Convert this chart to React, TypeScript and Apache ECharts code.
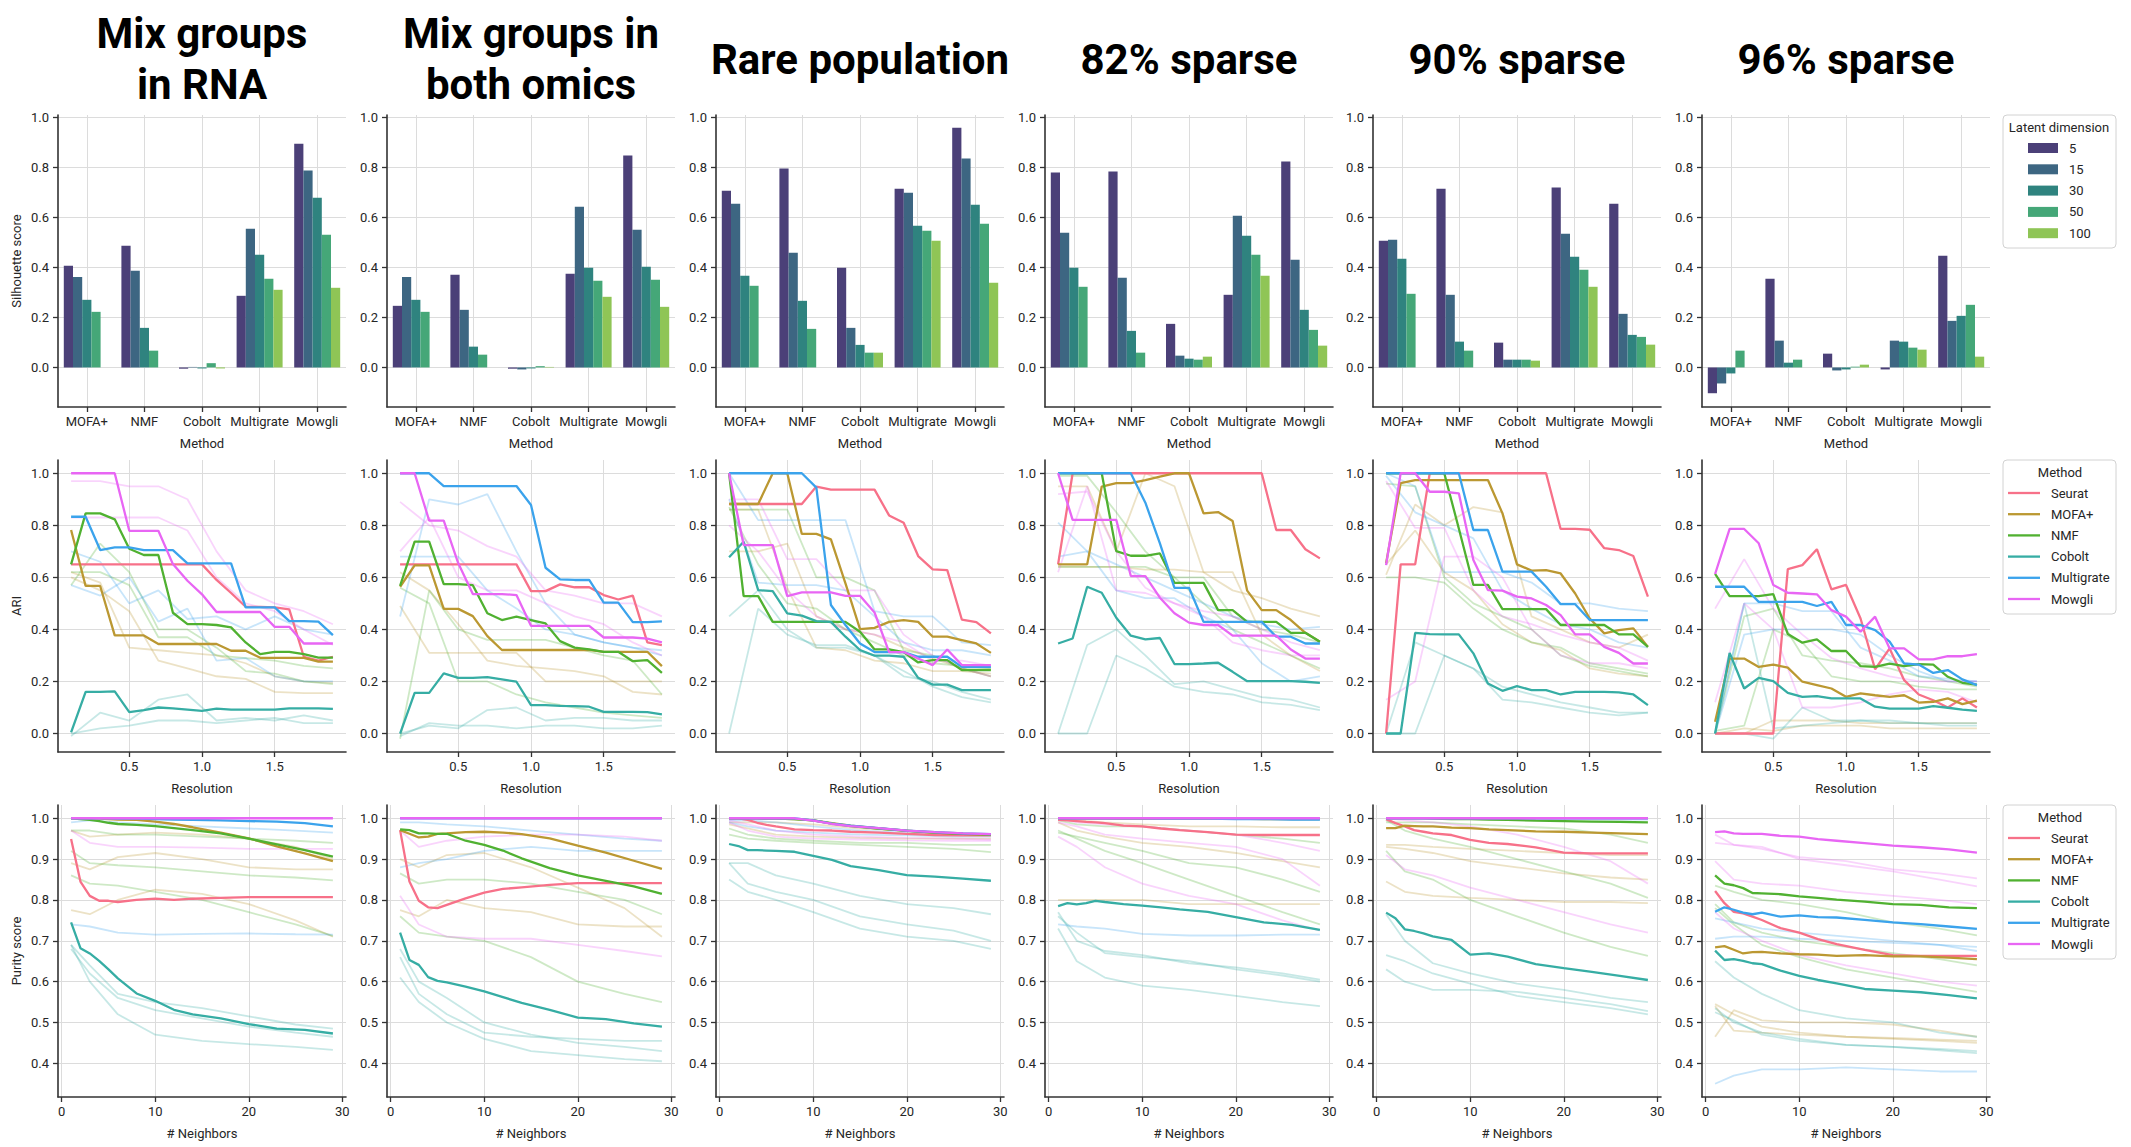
import React, { useEffect, useRef } from "react";
import * as echarts from "echarts";

// ---------- labels ----------
const TITLES = ["Mix groups\nin RNA", "Mix groups in\nboth omics", "Rare population", "82% sparse", "90% sparse", "96% sparse"];
const BAR_METHODS = ["MOFA+", "NMF", "Cobolt", "Multigrate", "Mowgli"];
const LATENT_DIMS = ["5", "15", "30", "50", "100"];
const LINE_METHODS = ["Seurat", "MOFA+", "NMF", "Cobolt", "Multigrate", "Mowgli"];

const DIM_COLORS = ["#4b4078", "#3d6682", "#2f837f", "#45a778", "#8fc556"];
const METHOD_COLORS = ["#f77189", "#bb9832", "#50b131", "#36ada4", "#3ba3ec", "#e866f4"];

// ---------- ticks ----------
const SIL_TICKS = [0, 0.2, 0.4, 0.6, 0.8, 1.0];
const ARI_TICKS = [0, 0.2, 0.4, 0.6, 0.8, 1.0];
const PUR_TICKS = [0.4, 0.5, 0.6, 0.7, 0.8, 0.9, 1.0];
const RES_TICKS = [0.5, 1.0, 1.5];
const NEIGH_TICKS = [0, 10, 20, 30];
const METHOD_TICKS = [0, 1, 2, 3, 4];

// ---------- x values ----------
const RESOLUTION = [0.1, 0.2, 0.3, 0.4, 0.5, 0.6, 0.7, 0.8, 0.9, 1.0, 1.1, 1.2, 1.3, 1.4, 1.5, 1.6, 1.7, 1.8, 1.9];
const RESOLUTION_FAINT = [0.1, 0.3, 0.5, 0.7, 0.9, 1.1, 1.3, 1.5, 1.7, 1.9];
const NEIGHBORS = [1, 2, 3, 4, 5, 6, 8, 10, 12, 14, 17, 20, 23, 26, 29];
const NEIGHBORS_FAINT = [1, 3, 6, 10, 15, 20, 25, 29];

// ---------- silhouette (rows: method, cols: latent dim 5,15,30,50,100) ----------
const SIL_1 = [[0.406, 0.361, 0.27, 0.222, null], [0.486, 0.386, 0.158, 0.067, null], [-0.005, 0.002, -0.004, 0.017, -0.004], [0.286, 0.554, 0.45, 0.354, 0.31], [0.893, 0.786, 0.678, 0.53, 0.318]];
const SIL_2 = [[0.246, 0.361, 0.27, 0.222, null], [0.37, 0.23, 0.083, 0.051, null], [-0.005, -0.008, -0.004, 0.005, 0.002], [0.374, 0.642, 0.398, 0.346, 0.282], [0.846, 0.55, 0.402, 0.35, 0.242]];
const SIL_3 = [[0.706, 0.654, 0.366, 0.326, null], [0.794, 0.458, 0.266, 0.154, null], [0.398, 0.158, 0.09, 0.059, 0.059], [0.714, 0.698, 0.566, 0.546, 0.506], [0.957, 0.834, 0.65, 0.574, 0.338]];
const SIL_4 = [[0.778, 0.538, 0.398, 0.322, null], [0.782, 0.358, 0.146, 0.059, null], [0.174, 0.047, 0.035, 0.031, 0.043], [0.29, 0.606, 0.526, 0.45, 0.366], [0.822, 0.43, 0.23, 0.15, 0.087]];
const SIL_5 = [[0.506, 0.51, 0.434, 0.294, null], [0.714, 0.29, 0.103, 0.067, null], [0.099, 0.031, 0.031, 0.031, 0.027], [0.718, 0.534, 0.442, 0.39, 0.322], [0.654, 0.214, 0.13, 0.122, 0.091]];
const SIL_6 = [[-0.103, -0.064, -0.024, 0.067, null], [0.354, 0.107, 0.019, 0.031, null], [0.055, -0.012, -0.008, 0.003, 0.011], [-0.008, 0.107, 0.103, 0.079, 0.071], [0.446, 0.186, 0.206, 0.25, 0.043]];

// ---------- ARI bold lines (order: Seurat, MOFA+, NMF, Cobolt, Multigrate, Mowgli) ----------
const ARI_BOLD_1 = [
  [0.65, 0.65, 0.65, 0.65, 0.65, 0.65, 0.65, 0.65, 0.65, 0.65, 0.59, 0.54, 0.487, 0.487, 0.485, 0.477, 0.295, 0.28, 0.295],
  [0.782, 0.567, 0.567, 0.377, 0.377, 0.377, 0.344, 0.344, 0.344, 0.344, 0.344, 0.318, 0.318, 0.291, 0.291, 0.291, 0.291, 0.276, 0.276],
  [0.65, 0.846, 0.846, 0.823, 0.71, 0.686, 0.686, 0.464, 0.42, 0.42, 0.417, 0.408, 0.35, 0.305, 0.314, 0.314, 0.305, 0.292, 0.292],
  [0.004, 0.16, 0.16, 0.162, 0.082, 0.09, 0.1, 0.097, 0.092, 0.087, 0.096, 0.092, 0.092, 0.092, 0.092, 0.097, 0.097, 0.097, 0.095],
  [0.833, 0.833, 0.705, 0.715, 0.715, 0.705, 0.705, 0.705, 0.654, 0.654, 0.654, 0.654, 0.485, 0.485, 0.485, 0.432, 0.432, 0.43, 0.378],
  [1, 1, 1, 1, 0.779, 0.779, 0.779, 0.651, 0.587, 0.535, 0.467, 0.467, 0.467, 0.467, 0.41, 0.41, 0.346, 0.346, 0.346],
];
const ARI_BOLD_2 = [
  [0.65, 0.65, 0.65, 0.65, 0.65, 0.65, 0.65, 0.65, 0.65, 0.547, 0.547, 0.573, 0.562, 0.562, 0.532, 0.515, 0.53, 0.35, 0.34],
  [0.564, 0.646, 0.646, 0.479, 0.479, 0.451, 0.374, 0.321, 0.321, 0.321, 0.321, 0.321, 0.321, 0.321, 0.314, 0.314, 0.314, 0.314, 0.259],
  [0.567, 0.737, 0.737, 0.574, 0.574, 0.57, 0.462, 0.436, 0.449, 0.436, 0.423, 0.355, 0.33, 0.323, 0.314, 0.314, 0.278, 0.282, 0.233],
  [0.0, 0.156, 0.156, 0.231, 0.214, 0.214, 0.217, 0.208, 0.199, 0.109, 0.109, 0.106, 0.105, 0.103, 0.083, 0.083, 0.083, 0.082, 0.074],
  [1, 1, 1, 0.951, 0.951, 0.951, 0.951, 0.951, 0.951, 0.878, 0.637, 0.592, 0.59, 0.59, 0.503, 0.503, 0.428, 0.428, 0.431],
  [1, 1, 0.818, 0.818, 0.654, 0.536, 0.536, 0.536, 0.532, 0.414, 0.414, 0.414, 0.414, 0.414, 0.369, 0.369, 0.369, 0.365, 0.35],
];
const ARI_BOLD_3 = [
  [0.882, 0.882, 0.882, 0.882, 0.882, 0.882, 0.949, 0.937, 0.937, 0.937, 0.937, 0.838, 0.81, 0.682, 0.631, 0.628, 0.438, 0.428, 0.385],
  [0.882, 0.882, 0.882, 1, 1, 0.767, 0.767, 0.746, 0.577, 0.401, 0.406, 0.429, 0.436, 0.429, 0.372, 0.372, 0.359, 0.346, 0.31],
  [1, 0.528, 0.528, 0.429, 0.429, 0.429, 0.429, 0.429, 0.429, 0.391, 0.323, 0.323, 0.313, 0.273, 0.282, 0.282, 0.244, 0.244, 0.244],
  [0.677, 0.737, 0.551, 0.547, 0.462, 0.453, 0.432, 0.429, 0.372, 0.321, 0.299, 0.299, 0.295, 0.214, 0.188, 0.188, 0.167, 0.167, 0.167],
  [1, 1, 1, 1, 1, 1, 0.945, 0.494, 0.417, 0.346, 0.313, 0.313, 0.313, 0.295, 0.295, 0.295, 0.256, 0.256, 0.256],
  [1, 0.724, 0.724, 0.724, 0.528, 0.542, 0.542, 0.542, 0.529, 0.529, 0.465, 0.313, 0.313, 0.288, 0.263, 0.323, 0.263, 0.263, 0.263],
];
const ARI_BOLD_4 = [
  [0.65, 1, 1, 1, 1, 1, 1, 1, 1, 1, 1, 1, 1, 1, 1, 0.782, 0.782, 0.708, 0.673],
  [0.65, 0.65, 0.65, 0.949, 0.962, 0.962, 0.974, 0.987, 1, 1, 0.846, 0.851, 0.817, 0.549, 0.474, 0.474, 0.436, 0.387, 0.353],
  [1, 1, 1, 1, 0.701, 0.683, 0.683, 0.692, 0.579, 0.579, 0.579, 0.474, 0.474, 0.429, 0.429, 0.429, 0.387, 0.387, 0.353],
  [0.346, 0.365, 0.564, 0.541, 0.445, 0.376, 0.362, 0.367, 0.267, 0.267, 0.269, 0.272, 0.237, 0.201, 0.201, 0.201, 0.201, 0.199, 0.195],
  [1, 1, 1, 1, 1, 1, 0.887, 0.731, 0.56, 0.56, 0.429, 0.429, 0.429, 0.429, 0.429, 0.372, 0.372, 0.346, 0.346],
  [1, 0.821, 0.821, 0.821, 0.821, 0.605, 0.605, 0.522, 0.462, 0.426, 0.417, 0.417, 0.376, 0.376, 0.376, 0.376, 0.323, 0.288, 0.288],
];
const ARI_BOLD_5 = [
  [0, 0.65, 0.65, 1, 1, 1, 1, 1, 1, 1, 1, 1, 0.786, 0.786, 0.783, 0.712, 0.705, 0.682, 0.526],
  [0.654, 0.962, 0.974, 0.974, 0.974, 0.974, 0.974, 0.974, 0.846, 0.65, 0.626, 0.628, 0.615, 0.538, 0.442, 0.385, 0.397, 0.404, 0.333],
  [1, 1, 1, 1, 1, 0.788, 0.571, 0.571, 0.478, 0.478, 0.478, 0.478, 0.417, 0.417, 0.417, 0.417, 0.381, 0.381, 0.333],
  [0, 0, 0.387, 0.382, 0.381, 0.381, 0.308, 0.192, 0.164, 0.182, 0.167, 0.167, 0.15, 0.16, 0.16, 0.16, 0.158, 0.15, 0.109],
  [1, 1, 1, 1, 1, 1, 0.782, 0.782, 0.622, 0.622, 0.622, 0.564, 0.497, 0.497, 0.436, 0.436, 0.436, 0.436, 0.436],
  [0.647, 1, 1, 0.929, 0.929, 0.923, 0.667, 0.551, 0.549, 0.526, 0.519, 0.494, 0.455, 0.381, 0.381, 0.333, 0.31, 0.269, 0.269],
];
const ARI_BOLD_6 = [
  [0, 0, 0, 0, 0, 0.632, 0.647, 0.708, 0.554, 0.571, 0.442, 0.247, 0.327, 0.205, 0.15, 0.128, 0.1, 0.135, 0.1],
  [0.045, 0.288, 0.288, 0.256, 0.265, 0.253, 0.199, 0.186, 0.173, 0.141, 0.154, 0.147, 0.141, 0.147, 0.119, 0.122, 0.135, 0.113, 0.126],
  [0.613, 0.528, 0.528, 0.528, 0.536, 0.382, 0.349, 0.362, 0.317, 0.317, 0.259, 0.256, 0.269, 0.259, 0.267, 0.265, 0.218, 0.195, 0.188],
  [0, 0.31, 0.173, 0.214, 0.201, 0.156, 0.141, 0.144, 0.135, 0.135, 0.135, 0.103, 0.096, 0.096, 0.096, 0.105, 0.099, 0.092, 0.087],
  [0.564, 0.564, 0.564, 0.506, 0.506, 0.506, 0.506, 0.49, 0.506, 0.417, 0.417, 0.397, 0.353, 0.269, 0.265, 0.233, 0.244, 0.208, 0.186],
  [0.613, 0.786, 0.786, 0.731, 0.571, 0.541, 0.538, 0.535, 0.474, 0.449, 0.391, 0.449, 0.327, 0.327, 0.285, 0.285, 0.297, 0.297, 0.305],
];

// ---------- ARI faint lines (other latent dims): [method index, values at RESOLUTION_FAINT] ----------
const ARI_FAINT_1 = [
  [1, [0.62, 0.58, 0.33, 0.32, 0.31, 0.3, 0.27, 0.22, 0.2, 0.195]],
  [1, [0.6, 0.55, 0.47, 0.28, 0.25, 0.22, 0.21, 0.16, 0.155, 0.155]],
  [2, [0.57, 0.73, 0.62, 0.4, 0.4, 0.33, 0.24, 0.23, 0.2, 0.19]],
  [2, [0.62, 0.62, 0.57, 0.37, 0.37, 0.3, 0.29, 0.28, 0.26, 0.25]],
  [3, [-0.01, 0.08, 0.05, 0.13, 0.15, 0.05, 0.06, 0.05, 0.07, 0.05]],
  [3, [0.0, 0.02, 0.03, 0.05, 0.05, 0.04, 0.05, 0.06, 0.04, 0.04]],
  [4, [0.7, 0.66, 0.5, 0.55, 0.44, 0.45, 0.4, 0.45, 0.4, 0.38]],
  [4, [0.57, 0.53, 0.6, 0.43, 0.48, 0.28, 0.29, 0.22, 0.2, 0.2]],
  [5, [0.97, 0.97, 0.95, 0.95, 0.9, 0.7, 0.55, 0.5, 0.47, 0.42]],
  [5, [0.83, 0.83, 0.83, 0.83, 0.78, 0.6, 0.5, 0.47, 0.4, 0.34]],
];
const ARI_FAINT_2 = [
  [1, [0.49, 0.31, 0.31, 0.31, 0.31, 0.2, 0.2, 0.2, 0.2, 0.2]],
  [1, [0.62, 0.55, 0.42, 0.28, 0.26, 0.25, 0.24, 0.22, 0.16, 0.15]],
  [2, [-0.02, 0.55, 0.4, 0.36, 0.36, 0.36, 0.33, 0.3, 0.28, 0.15]],
  [2, [0.56, 0.5, 0.2, 0.2, 0.15, 0.12, 0.1, 0.08, 0.07, 0.06]],
  [3, [0.0, 0.03, 0.02, 0.09, 0.1, 0.05, 0.06, 0.06, 0.05, 0.05]],
  [3, [-0.01, 0.04, 0.03, 0.03, 0.02, 0.03, 0.03, 0.02, 0.02, 0.03]],
  [4, [0.45, 0.9, 0.88, 0.92, 0.7, 0.5, 0.38, 0.35, 0.33, 0.32]],
  [4, [0.68, 0.68, 0.68, 0.55, 0.48, 0.4, 0.38, 0.35, 0.33, 0.3]],
  [5, [0.89, 0.8, 0.78, 0.72, 0.68, 0.55, 0.53, 0.5, 0.5, 0.45]],
  [5, [0.7, 0.83, 0.6, 0.55, 0.55, 0.5, 0.45, 0.42, 0.35, 0.3]],
];
const ARI_FAINT_3 = [
  [1, [0.7, 0.7, 0.73, 0.45, 0.4, 0.38, 0.33, 0.29, 0.25, 0.22]],
  [1, [0.86, 0.86, 0.56, 0.33, 0.32, 0.28, 0.27, 0.24, 0.24, 0.23]],
  [2, [0.86, 0.86, 0.86, 0.6, 0.6, 0.55, 0.32, 0.3, 0.25, 0.22]],
  [2, [0.87, 0.65, 0.5, 0.48, 0.4, 0.35, 0.3, 0.27, 0.26, 0.25]],
  [3, [0.0, 0.48, 0.38, 0.34, 0.34, 0.3, 0.24, 0.18, 0.14, 0.12]],
  [3, [0.45, 0.55, 0.4, 0.33, 0.33, 0.3, 0.22, 0.2, 0.16, 0.13]],
  [4, [1.0, 0.82, 0.82, 0.82, 0.82, 0.47, 0.45, 0.45, 0.35, 0.34]],
  [4, [0.9, 0.58, 0.57, 0.57, 0.55, 0.45, 0.35, 0.32, 0.32, 0.3]],
  [5, [0.9, 0.9, 0.67, 0.67, 0.55, 0.55, 0.38, 0.3, 0.25, 0.22]],
  [5, [0.8, 0.7, 0.55, 0.45, 0.4, 0.38, 0.35, 0.28, 0.28, 0.26]],
];
const ARI_FAINT_4 = [
  [1, [0.64, 0.64, 0.64, 0.63, 0.63, 0.62, 0.55, 0.52, 0.48, 0.45]],
  [1, [0.95, 0.95, 0.7, 1.0, 0.95, 0.62, 0.62, 0.38, 0.3, 0.24]],
  [2, [0.99, 0.99, 0.85, 0.7, 0.6, 0.6, 0.45, 0.4, 0.38, 0.35]],
  [2, [0.64, 0.64, 0.64, 0.64, 0.6, 0.5, 0.4, 0.35, 0.3, 0.25]],
  [3, [0.0, 0.34, 0.4, 0.3, 0.19, 0.2, 0.17, 0.14, 0.13, 0.1]],
  [3, [0.0, 0.0, 0.3, 0.25, 0.18, 0.16, 0.15, 0.12, 0.11, 0.09]],
  [4, [0.81, 0.7, 0.55, 0.52, 0.52, 0.45, 0.4, 0.27, 0.2, 0.22]],
  [4, [0.68, 0.7, 0.65, 0.6, 0.55, 0.5, 0.45, 0.42, 0.4, 0.41]],
  [5, [0.92, 0.93, 0.7, 0.56, 0.5, 0.47, 0.45, 0.4, 0.35, 0.32]],
  [5, [0.62, 0.95, 0.55, 0.54, 0.5, 0.45, 0.35, 0.32, 0.3, 0.3]],
];
const ARI_FAINT_5 = [
  [1, [0.61, 0.88, 0.8, 0.87, 0.85, 0.45, 0.4, 0.35, 0.33, 0.38]],
  [1, [0.65, 0.78, 0.62, 0.55, 0.42, 0.35, 0.32, 0.25, 0.23, 0.22]],
  [2, [0.96, 0.95, 0.6, 0.5, 0.45, 0.4, 0.3, 0.26, 0.24, 0.22]],
  [2, [0.6, 0.6, 0.58, 0.48, 0.4, 0.35, 0.33, 0.27, 0.25, 0.23]],
  [3, [0.0, 0.35, 0.3, 0.25, 0.18, 0.15, 0.12, 0.1, 0.08, 0.08]],
  [3, [0.0, 0.0, 0.3, 0.25, 0.13, 0.12, 0.1, 0.08, 0.07, 0.08]],
  [4, [1.0, 0.95, 0.62, 0.62, 0.62, 0.58, 0.5, 0.5, 0.48, 0.47]],
  [4, [0.99, 0.85, 0.8, 0.75, 0.55, 0.48, 0.42, 0.4, 0.35, 0.33]],
  [5, [0.13, 0.2, 0.68, 0.68, 0.6, 0.4, 0.3, 0.27, 0.27, 0.25]],
  [5, [0.97, 0.79, 0.79, 0.55, 0.45, 0.42, 0.38, 0.35, 0.33, 0.28]],
];
const ARI_FAINT_6 = [
  [1, [0.0, 0.0, 0.05, 0.05, 0.05, 0.04, 0.04, 0.04, 0.04, 0.04]],
  [1, [0.0, 0.02, 0.01, 0.03, 0.03, 0.03, 0.02, 0.02, 0.02, 0.02]],
  [2, [0.01, 0.03, 0.4, 0.35, 0.22, 0.2, 0.2, 0.18, 0.17, 0.17]],
  [2, [0.0, 0.45, 0.48, 0.3, 0.28, 0.27, 0.25, 0.22, 0.2, 0.18]],
  [3, [0.0, 0.5, 0.02, 0.03, 0.04, 0.05, 0.04, 0.04, 0.03, 0.03]],
  [3, [0.0, 0.0, -0.02, 0.1, 0.05, 0.05, 0.05, 0.04, 0.04, 0.04]],
  [4, [0.0, 0.38, 0.4, 0.4, 0.4, 0.38, 0.3, 0.24, 0.2, 0.2]],
  [4, [0.0, 0.5, 0.5, 0.47, 0.47, 0.33, 0.28, 0.22, 0.21, 0.2]],
  [5, [0.48, 0.67, 0.48, 0.38, 0.29, 0.25, 0.22, 0.2, 0.2, 0.2]],
  [5, [0.12, 0.5, 0.4, 0.1, 0.1, 0.12, 0.15, 0.17, 0.16, 0.12]],
];

// ---------- Purity bold lines (values at NEIGHBORS) ----------
const PUR_BOLD_1 = [
  [0.949, 0.845, 0.81, 0.798, 0.798, 0.795, 0.8, 0.803, 0.8, 0.803, 0.805, 0.807, 0.807, 0.807, 0.807],
  [1.0, 1.0, 1.0, 0.999, 0.998, 0.997, 0.996, 0.992, 0.986, 0.978, 0.965, 0.951, 0.931, 0.914, 0.895],
  [1.0, 0.998, 0.996, 0.993, 0.989, 0.986, 0.984, 0.981, 0.976, 0.971, 0.963, 0.95, 0.936, 0.922, 0.906],
  [0.745, 0.682, 0.669, 0.651, 0.63, 0.608, 0.571, 0.553, 0.531, 0.52, 0.51, 0.496, 0.485, 0.482, 0.473],
  [1.0, 1.0, 1.0, 1.0, 1.0, 0.999, 0.999, 0.998, 0.997, 0.996, 0.995, 0.993, 0.992, 0.988, 0.98],
  [1, 1, 1, 1, 1, 1, 1, 1, 1, 1, 1, 1, 1, 1, 1],
];
const PUR_BOLD_2 = [
  [0.971, 0.845, 0.798, 0.782, 0.78, 0.788, 0.804, 0.818, 0.827, 0.831, 0.837, 0.841, 0.841, 0.841, 0.841],
  [0.971, 0.962, 0.953, 0.955, 0.962, 0.963, 0.966, 0.967, 0.965, 0.961, 0.951, 0.933, 0.916, 0.896, 0.876],
  [0.973, 0.971, 0.963, 0.963, 0.962, 0.962, 0.945, 0.935, 0.921, 0.902, 0.878, 0.86, 0.847, 0.833, 0.815],
  [0.72, 0.653, 0.641, 0.611, 0.602, 0.598, 0.588, 0.576, 0.562, 0.548, 0.531, 0.512, 0.508, 0.498, 0.49],
  [1, 1, 1, 1, 1, 1, 1, 1, 1, 1, 1, 1, 1, 1, 1],
  [1, 1, 1, 1, 1, 1, 1, 1, 1, 1, 1, 1, 1, 1, 1],
];
const PUR_BOLD_3 = [
  [1.0, 1.0, 0.996, 0.989, 0.984, 0.98, 0.973, 0.971, 0.97, 0.967, 0.965, 0.962, 0.959, 0.958, 0.958],
  [1.0, 1.0, 1.0, 1.0, 0.999, 0.999, 0.998, 0.995, 0.988, 0.982, 0.975, 0.969, 0.965, 0.962, 0.96],
  [1.0, 1.0, 1.0, 1.0, 0.999, 0.999, 0.998, 0.995, 0.987, 0.981, 0.975, 0.97, 0.965, 0.962, 0.96],
  [0.937, 0.932, 0.922, 0.922, 0.921, 0.92, 0.918, 0.908, 0.898, 0.883, 0.873, 0.861, 0.857, 0.852, 0.847],
  [1.0, 1.0, 1.0, 1.0, 1.0, 1.0, 1.0, 0.995, 0.987, 0.982, 0.976, 0.97, 0.966, 0.963, 0.961],
  [1.0, 1.0, 1.0, 1.0, 1.0, 1.0, 1.0, 0.994, 0.986, 0.981, 0.976, 0.97, 0.966, 0.963, 0.961],
];
const PUR_BOLD_4 = [
  [0.996, 0.995, 0.993, 0.991, 0.99, 0.988, 0.982, 0.98, 0.975, 0.971, 0.966, 0.96, 0.959, 0.959, 0.959],
  [1.0, 1.0, 1.0, 1.0, 1.0, 1.0, 0.999, 0.999, 0.999, 0.999, 0.999, 0.999, 0.998, 0.998, 0.998],
  [1, 1, 1, 1, 1, 1, 1, 1, 1, 1, 1, 1, 1, 0.999, 0.999],
  [0.785, 0.792, 0.789, 0.792, 0.798, 0.795, 0.79, 0.786, 0.782, 0.777, 0.771, 0.758, 0.745, 0.739, 0.727],
  [1, 1, 1, 1, 1, 1, 1, 1, 0.999, 0.999, 0.999, 0.998, 0.998, 0.997, 0.997],
  [1, 1, 1, 1, 1, 1, 1, 1, 1, 1, 1, 1, 1, 1, 1],
];
const PUR_BOLD_5 = [
  [0.998, 0.988, 0.98, 0.971, 0.967, 0.963, 0.959, 0.947, 0.94, 0.937, 0.929, 0.916, 0.914, 0.914, 0.914],
  [0.976, 0.976, 0.982, 0.981, 0.98, 0.98, 0.977, 0.976, 0.973, 0.971, 0.968, 0.967, 0.965, 0.963, 0.961],
  [1.0, 1.0, 1.0, 1.0, 1.0, 0.999, 0.998, 0.998, 0.997, 0.996, 0.994, 0.993, 0.992, 0.991, 0.99],
  [0.769, 0.755, 0.728, 0.724, 0.718, 0.711, 0.702, 0.666, 0.669, 0.661, 0.643, 0.633, 0.624, 0.614, 0.604],
  [1, 1, 1, 1, 1, 1, 1, 1, 1, 1, 1, 1, 1, 1, 1],
  [1, 1, 1, 1, 1, 1, 1, 1, 1, 1, 1, 1, 1, 1, 1],
];
const PUR_BOLD_6 = [
  [0.822, 0.792, 0.771, 0.767, 0.759, 0.751, 0.731, 0.72, 0.704, 0.692, 0.678, 0.665, 0.663, 0.663, 0.663],
  [0.684, 0.687, 0.678, 0.669, 0.672, 0.673, 0.669, 0.667, 0.666, 0.663, 0.665, 0.662, 0.662, 0.659, 0.655],
  [0.86, 0.84, 0.836, 0.829, 0.817, 0.816, 0.814, 0.809, 0.805, 0.801, 0.796, 0.79, 0.788, 0.782, 0.78],
  [0.676, 0.653, 0.655, 0.651, 0.645, 0.643, 0.627, 0.614, 0.604, 0.596, 0.582, 0.578, 0.574, 0.567, 0.559],
  [0.771, 0.782, 0.776, 0.769, 0.765, 0.769, 0.759, 0.762, 0.758, 0.757, 0.751, 0.745, 0.741, 0.735, 0.729],
  [0.966, 0.968, 0.963, 0.962, 0.962, 0.962, 0.957, 0.955, 0.949, 0.945, 0.939, 0.933, 0.929, 0.924, 0.916],
];

// ---------- Purity faint lines: [method index, values at NEIGHBORS_FAINT] ----------
const PUR_FAINT_1 = [
  [1, [0.775, 0.765, 0.8, 0.825, 0.815, 0.79, 0.75, 0.71]],
  [1, [0.89, 0.875, 0.905, 0.915, 0.9, 0.88, 0.875, 0.875]],
  [1, [0.97, 0.955, 0.96, 0.965, 0.96, 0.95, 0.93, 0.9]],
  [2, [0.86, 0.84, 0.835, 0.82, 0.8, 0.77, 0.74, 0.712]],
  [2, [0.92, 0.89, 0.885, 0.88, 0.87, 0.86, 0.855, 0.848]],
  [2, [0.97, 0.97, 0.96, 0.96, 0.955, 0.95, 0.945, 0.94]],
  [3, [0.69, 0.6, 0.52, 0.47, 0.455, 0.447, 0.44, 0.433]],
  [3, [0.69, 0.64, 0.57, 0.55, 0.535, 0.515, 0.495, 0.485]],
  [3, [0.68, 0.62, 0.56, 0.53, 0.51, 0.49, 0.475, 0.465]],
  [4, [0.74, 0.735, 0.72, 0.715, 0.717, 0.718, 0.716, 0.715]],
  [4, [0.99, 0.995, 0.99, 0.985, 0.98, 0.975, 0.97, 0.965]],
  [5, [0.97, 0.94, 0.93, 0.93, 0.928, 0.925, 0.925, 0.925]],
];
const PUR_FAINT_2 = [
  [1, [0.775, 0.76, 0.8, 0.78, 0.77, 0.74, 0.735, 0.735]],
  [1, [0.9, 0.88, 0.91, 0.915, 0.88, 0.83, 0.78, 0.71]],
  [2, [0.76, 0.72, 0.71, 0.7, 0.66, 0.6, 0.57, 0.55]],
  [2, [0.865, 0.84, 0.85, 0.85, 0.84, 0.82, 0.8, 0.765]],
  [3, [0.66, 0.57, 0.52, 0.475, 0.465, 0.46, 0.455, 0.455]],
  [3, [0.61, 0.55, 0.5, 0.46, 0.43, 0.42, 0.41, 0.405]],
  [3, [0.68, 0.6, 0.56, 0.5, 0.47, 0.45, 0.44, 0.43]],
  [4, [0.99, 0.99, 0.985, 0.98, 0.97, 0.96, 0.95, 0.945]],
  [4, [0.88, 0.89, 0.9, 0.92, 0.93, 0.92, 0.92, 0.92]],
  [5, [0.81, 0.74, 0.71, 0.705, 0.705, 0.69, 0.675, 0.662]],
  [5, [0.97, 0.93, 0.945, 0.955, 0.96, 0.96, 0.955, 0.945]],
];
const PUR_FAINT_3 = [
  [1, [0.99, 0.99, 0.99, 0.985, 0.975, 0.97, 0.965, 0.96]],
  [1, [0.985, 0.975, 0.96, 0.955, 0.952, 0.95, 0.95, 0.95]],
  [2, [0.96, 0.95, 0.945, 0.94, 0.935, 0.93, 0.925, 0.917]],
  [2, [0.975, 0.96, 0.95, 0.945, 0.94, 0.94, 0.935, 0.935]],
  [3, [0.85, 0.82, 0.8, 0.77, 0.73, 0.71, 0.7, 0.68]],
  [3, [0.89, 0.84, 0.82, 0.8, 0.76, 0.74, 0.725, 0.7]],
  [3, [0.89, 0.89, 0.86, 0.84, 0.81, 0.79, 0.78, 0.765]],
  [4, [0.995, 0.995, 0.99, 0.98, 0.97, 0.965, 0.96, 0.958]],
  [4, [0.99, 0.98, 0.97, 0.965, 0.96, 0.958, 0.955, 0.955]],
  [5, [0.99, 0.97, 0.955, 0.95, 0.948, 0.946, 0.945, 0.945]],
  [5, [0.995, 0.985, 0.97, 0.96, 0.955, 0.952, 0.95, 0.948]],
];
const PUR_FAINT_4 = [
  [1, [1.0, 0.995, 0.99, 0.985, 0.98, 0.98, 0.978, 0.978]],
  [1, [0.99, 0.97, 0.955, 0.94, 0.93, 0.915, 0.895, 0.88]],
  [1, [0.8, 0.8, 0.8, 0.8, 0.79, 0.79, 0.79, 0.79]],
  [2, [0.97, 0.95, 0.92, 0.89, 0.85, 0.81, 0.77, 0.74]],
  [2, [0.995, 0.985, 0.98, 0.98, 0.97, 0.96, 0.95, 0.94]],
  [2, [0.965, 0.955, 0.94, 0.92, 0.89, 0.88, 0.85, 0.82]],
  [3, [0.73, 0.65, 0.61, 0.59, 0.58, 0.565, 0.55, 0.54]],
  [3, [0.76, 0.72, 0.67, 0.66, 0.65, 0.63, 0.615, 0.6]],
  [3, [0.77, 0.7, 0.675, 0.665, 0.645, 0.635, 0.62, 0.605]],
  [4, [0.74, 0.735, 0.73, 0.717, 0.713, 0.713, 0.715, 0.715]],
  [5, [0.955, 0.93, 0.88, 0.84, 0.81, 0.79, 0.75, 0.725]],
  [5, [0.99, 0.98, 0.96, 0.95, 0.94, 0.93, 0.9, 0.835]],
  [5, [1.0, 0.99, 0.985, 0.98, 0.97, 0.96, 0.94, 0.92]],
];
const PUR_FAINT_5 = [
  [1, [0.935, 0.935, 0.93, 0.925, 0.92, 0.915, 0.91, 0.91]],
  [1, [0.93, 0.925, 0.915, 0.895, 0.88, 0.865, 0.855, 0.85]],
  [1, [0.845, 0.82, 0.81, 0.805, 0.8, 0.795, 0.795, 0.792]],
  [2, [0.995, 0.97, 0.95, 0.93, 0.9, 0.87, 0.84, 0.805]],
  [2, [0.92, 0.87, 0.85, 0.8, 0.76, 0.72, 0.685, 0.663]],
  [2, [0.99, 0.99, 0.99, 0.985, 0.98, 0.975, 0.96, 0.94]],
  [3, [0.765, 0.7, 0.645, 0.62, 0.595, 0.58, 0.56, 0.55]],
  [3, [0.665, 0.65, 0.62, 0.595, 0.565, 0.55, 0.535, 0.52]],
  [3, [0.63, 0.6, 0.58, 0.58, 0.575, 0.56, 0.545, 0.528]],
  [4, [1.0, 1.0, 1.0, 0.999, 0.998, 0.998, 0.997, 0.997]],
  [5, [0.91, 0.875, 0.86, 0.83, 0.8, 0.77, 0.74, 0.72]],
  [5, [1.0, 0.995, 0.99, 0.98, 0.96, 0.93, 0.895, 0.84]],
];
const PUR_FAINT_6 = [
  [1, [0.465, 0.53, 0.505, 0.5, 0.5, 0.495, 0.48, 0.465]],
  [1, [0.545, 0.52, 0.49, 0.475, 0.465, 0.46, 0.455, 0.45]],
  [1, [0.54, 0.48, 0.475, 0.47, 0.465, 0.462, 0.458, 0.455]],
  [2, [0.835, 0.82, 0.8, 0.79, 0.77, 0.745, 0.73, 0.713]],
  [2, [0.79, 0.745, 0.72, 0.7, 0.685, 0.67, 0.655, 0.64]],
  [2, [0.78, 0.74, 0.69, 0.66, 0.63, 0.61, 0.59, 0.575]],
  [3, [0.65, 0.61, 0.57, 0.53, 0.51, 0.5, 0.475, 0.465]],
  [3, [0.535, 0.5, 0.475, 0.46, 0.445, 0.44, 0.435, 0.43]],
  [3, [0.525, 0.505, 0.47, 0.455, 0.445, 0.44, 0.432, 0.425]],
  [4, [0.35, 0.37, 0.385, 0.385, 0.39, 0.385, 0.38, 0.38]],
  [4, [0.705, 0.71, 0.71, 0.705, 0.7, 0.695, 0.69, 0.685]],
  [4, [0.755, 0.745, 0.73, 0.72, 0.71, 0.7, 0.69, 0.675]],
  [5, [0.96, 0.935, 0.925, 0.905, 0.895, 0.875, 0.865, 0.853]],
  [5, [0.895, 0.85, 0.84, 0.835, 0.82, 0.81, 0.8, 0.79]],
  [5, [0.94, 0.935, 0.93, 0.9, 0.885, 0.87, 0.85, 0.833]],
  [5, [0.77, 0.73, 0.7, 0.665, 0.64, 0.62, 0.6, 0.59]],
];

const SIL = [SIL_1, SIL_2, SIL_3, SIL_4, SIL_5, SIL_6];
const ARI_BOLD = [ARI_BOLD_1, ARI_BOLD_2, ARI_BOLD_3, ARI_BOLD_4, ARI_BOLD_5, ARI_BOLD_6];
const ARI_FAINT = [ARI_FAINT_1, ARI_FAINT_2, ARI_FAINT_3, ARI_FAINT_4, ARI_FAINT_5, ARI_FAINT_6];
const PUR_BOLD = [PUR_BOLD_1, PUR_BOLD_2, PUR_BOLD_3, PUR_BOLD_4, PUR_BOLD_5, PUR_BOLD_6];
const PUR_FAINT = [PUR_FAINT_1, PUR_FAINT_2, PUR_FAINT_3, PUR_FAINT_4, PUR_FAINT_5, PUR_FAINT_6];

// ---------- layout ----------
const COL_LEFT = [58, 387, 716, 1045, 1373, 1702];
const ROW_TOP = [115, 460, 805];
const GRID_W = 288;
const GRID_H = 292;
const FONT = "Roboto, 'DejaVu Sans', sans-serif";
const TXT = "#262626";
const AXIS_C = "#333333";
const GRID_C = "#dcdcdc";

function buildOption() {
  const grid: any[] = [];
  const xAxis: any[] = [];
  const yAxis: any[] = [];
  const series: any[] = [];

  const rows = [
    { xMin: -0.5, xMax: 4.5, xTicks: METHOD_TICKS, xFmt: (v: number) => BAR_METHODS[Math.round(v)], xName: "Method",
      yMin: -0.158, yMax: 1.008, yTicks: SIL_TICKS, yName: "Silhouette score" },
    { xMin: 0.01, xMax: 1.99, xTicks: RES_TICKS, xFmt: (v: number) => v.toFixed(1), xName: "Resolution",
      yMin: -0.071, yMax: 1.051, yTicks: ARI_TICKS, yName: "ARI" },
    { xMin: -0.4, xMax: 30.4, xTicks: NEIGH_TICKS, xFmt: (v: number) => String(v), xName: "# Neighbors",
      yMin: 0.3175, yMax: 1.0325, yTicks: PUR_TICKS, yName: "Purity score" },
  ];

  const lbl = { fontSize: 13, color: TXT, fontFamily: FONT };

  rows.forEach((r, ri) => {
    for (let c = 0; c < 6; c++) {
      const idx = ri * 6 + c;
      grid.push({ left: COL_LEFT[c], top: ROW_TOP[ri], width: GRID_W, height: GRID_H });
      xAxis.push({
        type: "value", gridIndex: idx, min: r.xMin, max: r.xMax,
        axisLine: { show: true, onZero: false, lineStyle: { color: AXIS_C, width: 1.6 } },
        axisTick: { show: true, customValues: r.xTicks, length: 5, lineStyle: { color: AXIS_C, width: 1.3 } },
        axisLabel: { customValues: r.xTicks, formatter: r.xFmt, margin: 8, ...lbl },
        splitLine: { show: true, lineStyle: { color: GRID_C, width: 1 } },
        name: r.xName, nameLocation: "middle", nameGap: 30, nameTextStyle: { ...lbl },
      });
      yAxis.push({
        type: "value", gridIndex: idx, min: r.yMin, max: r.yMax,
        axisLine: { show: true, onZero: false, lineStyle: { color: AXIS_C, width: 1.6 } },
        axisTick: { show: true, customValues: r.yTicks, length: 5, lineStyle: { color: AXIS_C, width: 1.3 } },
        axisLabel: { customValues: r.yTicks, formatter: (v: number) => v.toFixed(1), margin: 9, ...lbl },
        splitLine: { show: true, lineStyle: { color: GRID_C, width: 1 } },
        name: c === 0 ? r.yName : "", nameLocation: "middle", nameGap: 35, nameTextStyle: { ...lbl },
      });

      if (ri === 0) {
        LATENT_DIMS.forEach((dim, d) => {
          series.push({
            type: "bar", name: dim, xAxisIndex: idx, yAxisIndex: idx, silent: true,
            barWidth: 9.2, barGap: "0%",
            itemStyle: { color: DIM_COLORS[d] },
            data: BAR_METHODS.map((m, mi) => [mi, SIL[c][mi][d]]),
          });
        });
      } else {
        const bold = ri === 1 ? ARI_BOLD[c] : PUR_BOLD[c];
        const faint = ri === 1 ? ARI_FAINT[c] : PUR_FAINT[c];
        const xs = ri === 1 ? RESOLUTION : NEIGHBORS;
        const xf = ri === 1 ? RESOLUTION_FAINT : NEIGHBORS_FAINT;
        faint.forEach((f: any) => {
          const mi = f[0];
          series.push({
            type: "line", name: LINE_METHODS[mi] + " (other dims)", xAxisIndex: idx, yAxisIndex: idx, silent: true,
            showSymbol: false, symbol: "none",
            lineStyle: { color: METHOD_COLORS[mi], width: 1.8, opacity: 0.28 },
            data: f[1].map((v: number, i: number) => [xf[i], v]),
          });
        });
        bold.forEach((vals, mi) => {
          series.push({
            type: "line", name: LINE_METHODS[mi], xAxisIndex: idx, yAxisIndex: idx, silent: true,
            showSymbol: false, symbol: "none",
            lineStyle: { color: METHOD_COLORS[mi], width: 2.3 },
            data: vals.map((v, i) => [xs[i], v]),
          });
        });
      }
    }
  });

  // graphics: titles + legends
  const graphic: any[] = [];
  TITLES.forEach((t, c) => {
    graphic.push({
      type: "text", x: COL_LEFT[c] + GRID_W / 2, y: 59,
      style: { text: t, fontSize: 42, fontWeight: "bold", fontFamily: FONT, fill: "#000",
        align: "center", verticalAlign: "middle", lineHeight: 51 },
    });
  });

  // Latent dimension legend
  graphic.push({ type: "rect", shape: { x: 2003, y: 115, width: 113, height: 133, r: 4 },
    style: { fill: "#fff", stroke: "#d2d2d2", lineWidth: 1 } });
  graphic.push({ type: "text", x: 2059, y: 127,
    style: { text: "Latent dimension", fontSize: 13, fontFamily: FONT, fill: TXT, align: "center", verticalAlign: "middle" } });
  LATENT_DIMS.forEach((d, i) => {
    const cy = 148 + i * 21.3;
    graphic.push({ type: "rect", shape: { x: 2028, y: cy - 5, width: 30, height: 10 }, style: { fill: DIM_COLORS[i] } });
    graphic.push({ type: "text", x: 2069, y: cy,
      style: { text: d, fontSize: 13, fontFamily: FONT, fill: TXT, align: "left", verticalAlign: "middle" } });
  });

  // Method legends (middle & bottom rows)
  [460, 805].forEach((top) => {
    graphic.push({ type: "rect", shape: { x: 2003, y: top, width: 113, height: 154, r: 4 },
      style: { fill: "#fff", stroke: "#d2d2d2", lineWidth: 1 } });
    graphic.push({ type: "text", x: 2060, y: top + 12,
      style: { text: "Method", fontSize: 13, fontFamily: FONT, fill: TXT, align: "center", verticalAlign: "middle" } });
    LINE_METHODS.forEach((m, i) => {
      const cy = top + 33 + i * 21.2;
      graphic.push({ type: "line", shape: { x1: 2008, y1: cy, x2: 2040, y2: cy },
        style: { stroke: METHOD_COLORS[i], lineWidth: 2.3 } });
      graphic.push({ type: "text", x: 2051, y: cy,
        style: { text: m, fontSize: 13, fontFamily: FONT, fill: TXT, align: "left", verticalAlign: "middle" } });
    });
  });

  return {
    animation: false,
    backgroundColor: "#ffffff",
    textStyle: { fontFamily: FONT },
    grid, xAxis, yAxis, series, graphic,
  };
}

export default function App() {
  const ref = useRef<HTMLDivElement>(null);
  useEffect(() => {
    if (!ref.current) return;
    const chart = echarts.init(ref.current, undefined, { renderer: "svg", width: 2131, height: 1147 });
    chart.setOption(buildOption() as any);
    return () => chart.dispose();
  }, []);
  return (
    <div
      ref={ref}
      style={{ position: "absolute", left: 0, top: 0, width: 2131, height: 1147, background: "#fff" }}
    />
  );
}
